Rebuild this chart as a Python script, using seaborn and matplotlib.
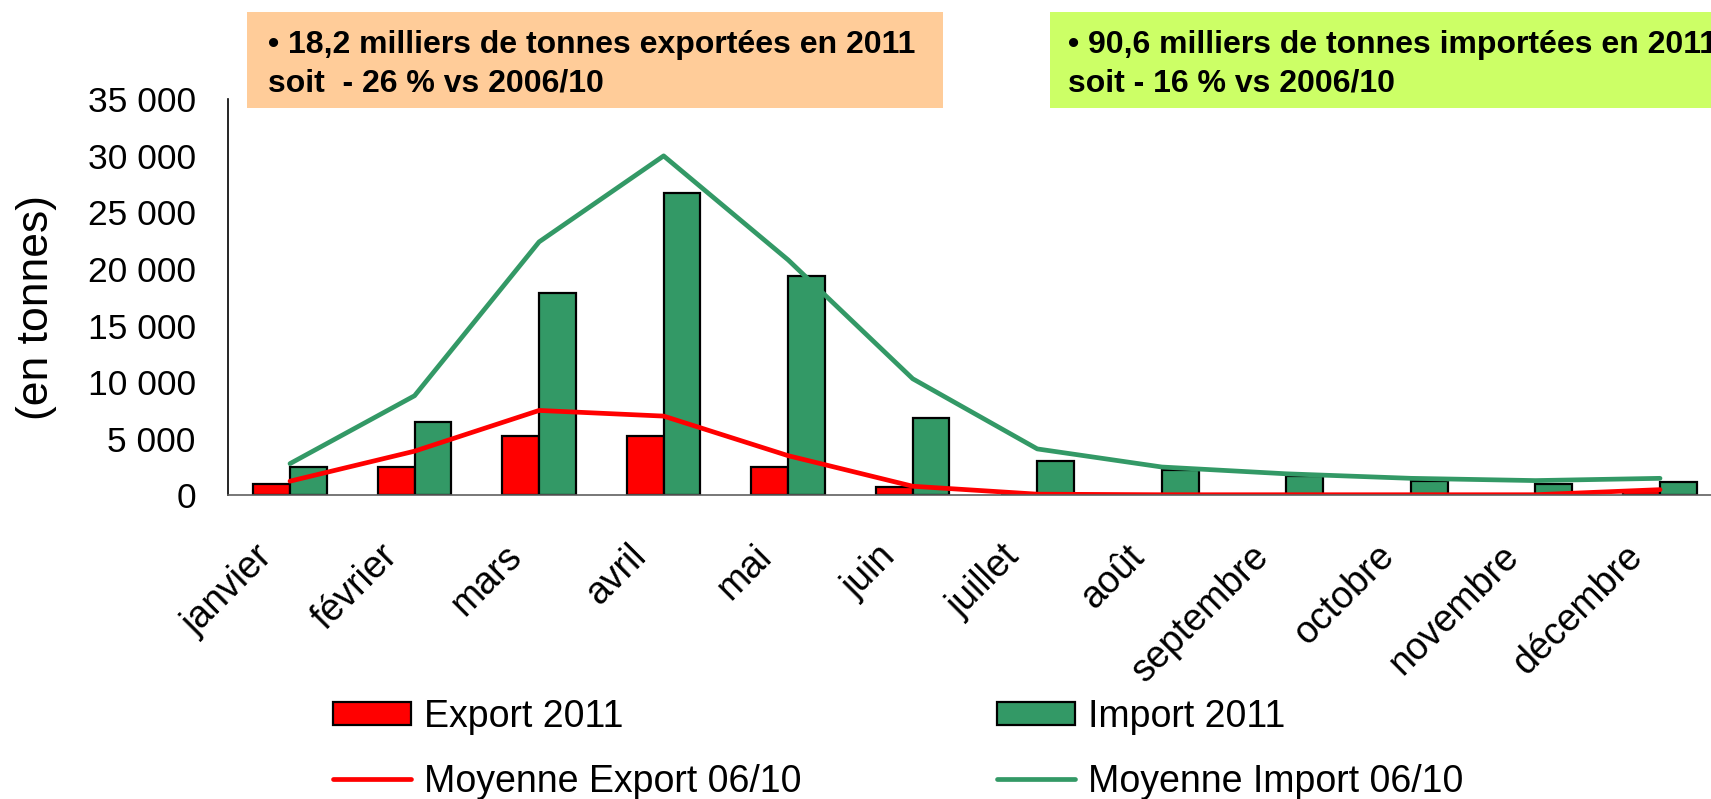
import numpy as np
import pandas as pd
import matplotlib
matplotlib.use("Agg")
import matplotlib.pyplot as plt
from matplotlib.patches import Patch, Rectangle
from matplotlib.lines import Line2D
from matplotlib.ticker import FuncFormatter, FixedLocator
import seaborn as sns

months = ["janvier", "février", "mars", "avril", "mai", "juin", "juillet",
          "août", "septembre", "octobre", "novembre", "décembre"]
export_2011 = [1000, 2500, 5200, 5200, 2500, 700, 0, 0, 0, 0, 0, 350]
import_2011 = [2500, 6500, 17900, 26700, 19400, 6800, 3000, 2200, 1700, 1300, 1000, 1200]
moy_export = [1250, 3900, 7500, 7000, 3500, 800, 100, 50, 50, 50, 50, 500]
moy_import = [2800, 8800, 22400, 30000, 20800, 10300, 4100, 2500, 1900, 1500, 1300, 1500]

RED = "#FF0000"
GREEN = "#339966"

sns.set_style("white")
plt.rcParams["font.family"] = ["Liberation Sans", "DejaVu Sans"]
plt.rcParams["text.color"] = "black"
plt.rcParams["xtick.labelcolor"] = "black"
plt.rcParams["ytick.labelcolor"] = "black"

bars = pd.DataFrame({
    "mois": months * 2,
    "tonnes": export_2011 + import_2011,
    "serie": ["Export 2011"] * 12 + ["Import 2011"] * 12,
})

fig = plt.figure(figsize=(17.11, 7.99), dpi=100)
ax = fig.add_axes([0.1331, 0.3801, 0.8735, 0.4956])

sns.barplot(data=bars, x="mois", y="tonnes", hue="serie", order=months,
            palette={"Export 2011": RED, "Import 2011": GREEN},
            width=0.59, edgecolor="black", linewidth=1.6, saturation=1,
            legend=False, ax=ax)
sns.lineplot(x=np.arange(12), y=moy_export, color=RED, linewidth=3.4, sort=False, ax=ax)
sns.lineplot(x=np.arange(12), y=moy_import, color=GREEN, linewidth=3.4, sort=False, ax=ax)

ax.set_xlim(-0.5, 11.5)
ax.set_ylim(0, 35000)
ax.set_yticks(np.arange(0, 35001, 5000))
ax.yaxis.set_major_formatter(FuncFormatter(lambda v, p: f"{int(v):,}".replace(",", " ")))
ax.set_xlabel("")
ax.set_ylabel("")

# libellés des mois : légèrement décalés à gauche du centre (comme dans Excel)
ax.set_xticks(np.arange(12) - 0.18)
ax.set_xticklabels(months, rotation=45, ha="right", va="center", rotation_mode="anchor")
ax.xaxis.set_minor_locator(FixedLocator(np.arange(-0.5, 12, 1)))
ax.tick_params(axis="x", which="major", length=0, pad=40, labelsize=27)
ax.tick_params(axis="x", which="minor", length=8, width=1, color="#808080", direction="out")
ax.tick_params(axis="y", length=8, width=1, color="black", direction="out", pad=15, labelsize=25.5)

for s in ["top", "right"]:
    ax.spines[s].set_visible(False)
ax.spines["left"].set_color("black")
ax.spines["left"].set_linewidth(1.2)
ax.spines["bottom"].set_color("#606060")
ax.spines["bottom"].set_linewidth(1.2)

fig.text(37 / 1711, 1 - 308 / 799, "(en tonnes)", rotation=90, ha="center", va="center", fontsize=32)

# encadrés du haut
fig.patches.append(Rectangle((247 / 1711, 1 - 108 / 799), 696 / 1711, 96 / 799,
                             transform=fig.transFigure, facecolor="#FFCC99", edgecolor="none", zorder=0))
fig.patches.append(Rectangle((1050 / 1711, 1 - 108 / 799), 700 / 1711, 96 / 799,
                             transform=fig.transFigure, facecolor="#CCFF66", edgecolor="none", zorder=0))
fig.text(268 / 1711, 1 - 53 / 799, "• 18,2 milliers de tonnes exportées en 2011",
         fontsize=23, fontweight="bold", va="baseline")
fig.text(268 / 1711, 1 - 92 / 799, "soit  - 26 % vs 2006/10",
         fontsize=23, fontweight="bold", va="baseline")
fig.text(1068 / 1711, 1 - 53 / 799, "• 90,6 milliers de tonnes importées en 2011",
         fontsize=23, fontweight="bold", va="baseline")
fig.text(1068 / 1711, 1 - 92 / 799, "soit - 16 % vs 2006/10",
         fontsize=23, fontweight="bold", va="baseline")

handles = [
    Patch(facecolor=RED, edgecolor="black", linewidth=1.6, label="Export 2011"),
    Line2D([], [], color=RED, linewidth=3.4, label="Moyenne Export 06/10"),
    Patch(facecolor=GREEN, edgecolor="black", linewidth=1.6, label="Import 2011"),
    Line2D([], [], color=GREEN, linewidth=3.4, label="Moyenne Import 06/10"),
]
fig.legend(handles=handles, ncol=2, loc="upper left", bbox_to_anchor=(333 / 1711, 1 - 699 / 799),
           frameon=False, fontsize=27, handlelength=2.08, handleheight=0.55,
           handletextpad=0.35, columnspacing=5.2, labelspacing=0.76, borderaxespad=0, borderpad=0)

fig.savefig("out.png", dpi=100)
